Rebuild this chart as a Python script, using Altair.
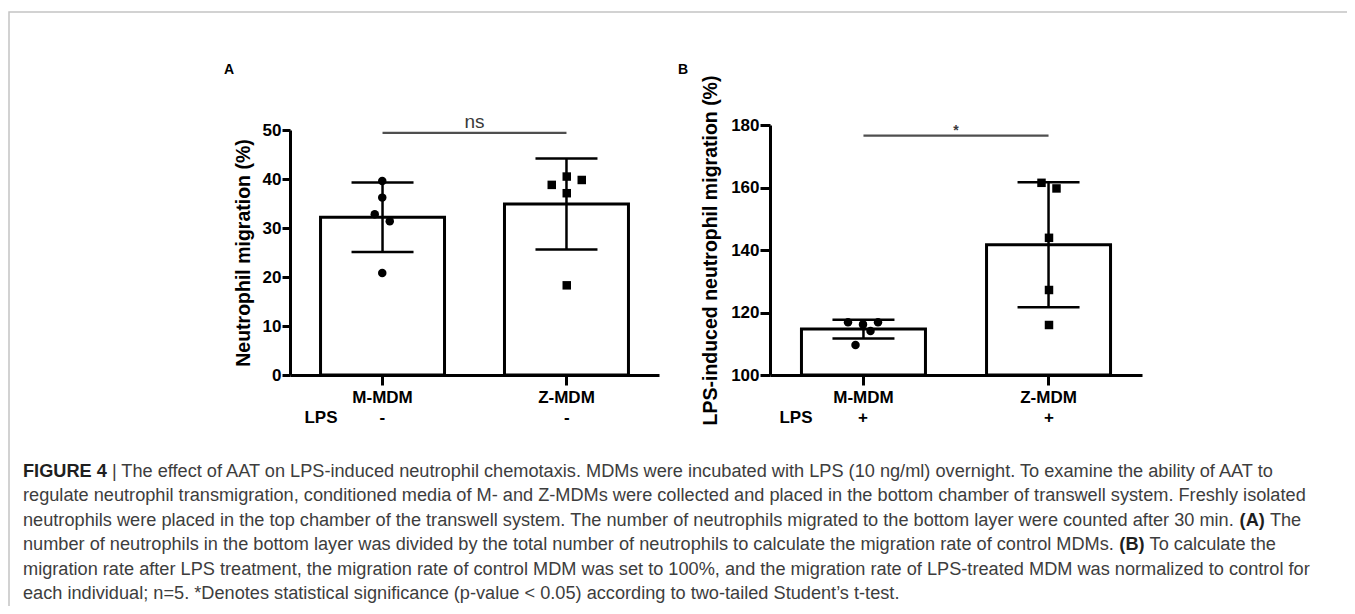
import altair as alt
import pandas as pd

FONT = "Liberation Sans"

groups = ["M-MDM", "Z-MDM"]

# ---- Panel A: Neutrophil migration (%), LPS - ----
a_mean = [32.2, 34.9]
a_sd = [7.1, 9.3]
a_m_points = [39.6, 36.2, 32.8, 31.4, 20.8]
a_m_lane = [0, 0, -1, 1, 0]
a_z_points = [40.5, 39.8, 38.8, 37.1, 18.3]
a_z_lane = [0, 2, -2, 0, 0]
a_ticks = [0, 10, 20, 30, 40, 50]
a_lps = ["-", "-"]
a_sig_y = [49.4]
a_sig_label = ["ns"]
a_title = "Neutrophil migration (%)"

# ---- Panel B: LPS-induced neutrophil migration (%), LPS + ----
b_mean = [114.7, 141.7]
b_sd = [3.0, 20.0]
b_m_points = [116.9, 116.9, 116.2, 114.1, 109.6]
b_m_lane = [-2, 2, 0, 1, -1]
b_z_points = [161.5, 159.7, 143.9, 127.2, 116.0]
b_z_lane = [-1, 1, 0, 0, 0]
b_ticks = [100, 120, 140, 160, 180]
b_lps = ["+", "+"]
b_sig_y = [176.6]
b_sig_label = ["*"]
b_title = "LPS-induced neutrophil migration (%)"

caption = [
    [("FIGURE 4", True), (" | The effect of AAT on LPS-induced neutrophil chemotaxis. MDMs were incubated with LPS (10 ng/ml) overnight. To examine the ability of AAT to", False)],
    [("regulate neutrophil transmigration, conditioned media of M- and Z-MDMs were collected and placed in the bottom chamber of transwell system. Freshly isolated", False)],
    [("neutrophils were placed in the top chamber of the transwell system. The number of neutrophils migrated to the bottom layer were counted after 30 min. ", False), ("(A)", True), (" The", False)],
    [("number of neutrophils in the bottom layer was divided by the total number of neutrophils to calculate the migration rate of control MDMs. ", False), ("(B)", True), (" To calculate the", False)],
    [("migration rate after LPS treatment, the migration rate of control MDM was set to 100%, and the migration rate of LPS-treated MDM was normalized to control for", False)],
    [("each individual; n=5. *Denotes statistical significance (p-value < 0.05) according to two-tailed Student\u2019s t-test.", False)],
]

# Arial / Liberation Sans advance widths (1/1000 em) for caption layout
REG = {' ': 278, '!': 278, '"': 355, '#': 556, '$': 556, '%': 889, '&': 667, "'": 191, '(': 333, ')': 333,
       '*': 389, '+': 584, ',': 278, '-': 333, '.': 278, '/': 278, ':': 278, ';': 278, '<': 584, '=': 584,
       '>': 584, '?': 556, '@': 1015, '|': 260, '\u2019': 222,
       'A': 667, 'B': 667, 'C': 722, 'D': 722, 'E': 667, 'F': 611, 'G': 778, 'H': 722, 'I': 278, 'J': 500,
       'K': 667, 'L': 556, 'M': 833, 'N': 722, 'O': 778, 'P': 667, 'Q': 778, 'R': 722, 'S': 667, 'T': 611,
       'U': 722, 'V': 667, 'W': 944, 'X': 667, 'Y': 667, 'Z': 611,
       'a': 556, 'b': 556, 'c': 500, 'd': 556, 'e': 556, 'f': 278, 'g': 556, 'h': 556, 'i': 222, 'j': 222,
       'k': 500, 'l': 222, 'm': 833, 'n': 556, 'o': 556, 'p': 556, 'q': 556, 'r': 333, 's': 500, 't': 278,
       'u': 556, 'v': 500, 'w': 722, 'x': 500, 'y': 500, 'z': 500}
for d in "0123456789":
    REG[d] = 556
BOLD = {' ': 278, '(': 333, ')': 333, 'A': 722, 'B': 722, 'F': 611, 'I': 278, 'G': 778, 'U': 722,
        'R': 722, 'E': 667, '4': 556}


def em(text, table):
    return sum(table.get(c, 556) for c in text) / 1000.0


CAP_X0 = 15
CAP_RIGHT = 1302
cap_fs = round((CAP_RIGHT - CAP_X0) / em(caption[4][0][0], REG), 2)

rows = []
for i, segs in enumerate(caption):
    x = CAP_X0
    for text, bold in segs:
        table = BOLD if bold else REG
        lead = len(text) - len(text.lstrip(" "))
        rows.append({"row": i, "x": x + lead * 0.278 * cap_fs, "text": text.strip(" "), "bold": bold})
        x += em(text, table) * cap_fs
cap_df = pd.DataFrame(rows)

W, H = 1339, 598
LANE_STEP = 7.5  # jitter lane width in px


def panel(mean, sd, m_pts, m_lane, z_pts, z_lane, ticks, lps, sig_y, sig_label, title,
          x_range, pad_in, pad_out, y_range, tick_len, title_x, lps_x,
          sig_size, sig_weight, sig_dy, sig_color):
    bars = pd.DataFrame({"group": groups, "mean": mean,
                         "lo": [m - s for m, s in zip(mean, sd)],
                         "hi": [m + s for m, s in zip(mean, sd)],
                         "base": [ticks[0]] * 2, "lps": lps})
    pts = pd.DataFrame({"group": [groups[0]] * len(m_pts) + [groups[1]] * len(z_pts),
                        "value": m_pts + z_pts, "lane": m_lane + z_lane})
    sig = pd.DataFrame({"start": [groups[0]], "end": [groups[1]], "y": sig_y, "label": sig_label})

    def xs():
        return alt.Scale(domain=groups, range=x_range, paddingInner=pad_in, paddingOuter=pad_out)

    def ys():
        return alt.Scale(domain=[ticks[0], ticks[-1]], range=y_range, nice=False, zero=False)

    x_axis = alt.Axis(orient="bottom", offset=y_range[0] - H, title=None, labelAngle=0,
                      labelFont=FONT, labelFontSize=17, labelFontWeight="bold", labelColor="black",
                      labelPadding=4, tickSize=10, tickWidth=3, tickColor="black",
                      domainWidth=3, domainColor="black", grid=False, labelOverlap=False, zindex=1)
    y_axis = alt.Axis(orient="left", offset=-x_range[0], values=ticks, format="d", title=title,
                      titleX=title_x, titleBaseline="middle", titleFont=FONT, titleFontSize=19.5,
                      titleFontWeight="bold", titleColor="black",
                      labelFont=FONT, labelFontSize=17, labelFontWeight="bold", labelColor="black",
                      labelPadding=1, tickSize=tick_len, tickWidth=3, tickColor="black",
                      domainWidth=3, domainColor="black", grid=False, zindex=1)

    layers = []
    layers.append(alt.Chart(bars).mark_bar(fill="white", stroke="black", strokeWidth=3).encode(
        x=alt.X("group:N", scale=xs(), axis=x_axis),
        y=alt.Y("mean:Q", scale=ys(), axis=y_axis),
        y2="base:Q",
    ))
    layers.append(alt.Chart(bars).mark_rule(color="black", strokeWidth=2.5).encode(
        x=alt.X("group:N", scale=xs(), axis=None),
        y=alt.Y("lo:Q", scale=ys(), axis=None), y2="hi:Q"))
    layers.append(alt.Chart(bars).transform_fold(["lo", "hi"], as_=["end", "val"]).mark_tick(
        color="black", thickness=2.5, size=62, opacity=1).encode(
        x=alt.X("group:N", scale=xs(), axis=None),
        y=alt.Y("val:Q", scale=ys(), axis=None)))
    for lane in sorted(set(m_lane + z_lane)):
        layers.append(alt.Chart(pts).transform_filter(f"datum.lane == {lane}").mark_point(
            filled=True, size=72, opacity=1, color="black", xOffset=lane * LANE_STEP).encode(
            x=alt.X("group:N", scale=xs(), axis=None),
            y=alt.Y("value:Q", scale=ys(), axis=None),
            shape=alt.Shape("group:N", scale=alt.Scale(domain=groups, range=["circle", "square"]),
                            legend=None),
        ))
    layers.append(alt.Chart(sig).mark_rule(color="#4f4f4f", strokeWidth=2.3).encode(
        x=alt.X("start:N", scale=xs(), axis=None), x2="end:N",
        y=alt.Y("y:Q", scale=ys(), axis=None)))
    layers.append(alt.Chart(sig).mark_text(font=FONT, fontSize=sig_size, fontWeight=sig_weight,
                                           color=sig_color, baseline="alphabetic", dy=sig_dy).encode(
        x=alt.value((x_range[0] + x_range[1]) / 2),
        y=alt.Y("y:Q", scale=ys(), axis=None), text="label:N"))
    layers.append(alt.Chart(bars).mark_text(font=FONT, fontSize=17, fontWeight="bold", color="black").encode(
        x=alt.X("group:N", scale=xs(), axis=None), y=alt.value(410), text="lps:N"))
    layers.append(alt.Chart(pd.DataFrame({"t": ["LPS"]})).mark_text(
        font=FONT, fontSize=17, fontWeight="bold", color="black").encode(
        x=alt.value(lps_x), y=alt.value(410), text="t:N"))
    return layers


panel_a = panel(a_mean, a_sd, a_m_points, a_m_lane, a_z_points, a_z_lane, a_ticks, a_lps,
                a_sig_y, a_sig_label, a_title,
                x_range=[282, 651], pad_in=0.326, pad_out=0.166, y_range=[367, 122],
                tick_len=8, title_x=-47, lps_x=313,
                sig_size=19, sig_weight="normal", sig_dy=-5, sig_color="#3a3a3a")
panel_b = panel(b_mean, b_sd, b_m_points, b_m_lane, b_z_points, b_z_lane, b_ticks, b_lps,
                b_sig_y, b_sig_label, b_title,
                x_range=[762, 1134], pad_in=0.33, pad_out=0.17, y_range=[367, 117],
                tick_len=10, title_x=-60, lps_x=788,
                sig_size=14, sig_weight="bold", sig_dy=-1, sig_color="#3a3a3a")

one = pd.DataFrame({"k": [0]})
border = alt.Chart(one).mark_rect(fillOpacity=0, stroke="#c4c4c4", strokeWidth=1.5).encode(
    x=alt.value(1), x2=alt.value(1343), y=alt.value(4), y2=alt.value(660))

letter_a = alt.Chart(pd.DataFrame({"t": ["A"]})).mark_text(
    font=FONT, fontSize=14, fontWeight="bold", color="black").encode(
    x=alt.value(221), y=alt.value(62), text="t:N")
letter_b = alt.Chart(pd.DataFrame({"t": ["B"]})).mark_text(
    font=FONT, fontSize=14, fontWeight="bold", color="black").encode(
    x=alt.value(675), y=alt.value(62), text="t:N")

row_scale = alt.Scale(type="point", domain=list(range(len(caption))), range=[464, 586], padding=0)
cap_reg = alt.Chart(cap_df).transform_filter("!datum.bold").mark_text(
    align="left", baseline="middle", font=FONT, fontSize=cap_fs, color="#3d3d3d").encode(
    x=alt.X("x:Q", scale=None, axis=None),
    y=alt.Y("row:O", scale=row_scale, axis=None),
    text="text:N")
cap_bold = alt.Chart(cap_df).transform_filter("datum.bold").mark_text(
    align="left", baseline="middle", font=FONT, fontSize=cap_fs, fontWeight="bold", color="#1f1f1f").encode(
    x=alt.X("x:Q", scale=None, axis=None),
    y=alt.Y("row:O", scale=row_scale, axis=None),
    text="text:N")

chart = alt.layer(border, letter_a, letter_b, cap_reg, cap_bold, *panel_a, *panel_b).resolve_scale(
    x="independent", y="independent"
).properties(
    width=W, height=H, autosize=alt.AutoSizeParams(type="none"), padding=0
).configure_view(stroke=None)

chart.save("out.html", embed_options={"renderer": "svg", "actions": False})
